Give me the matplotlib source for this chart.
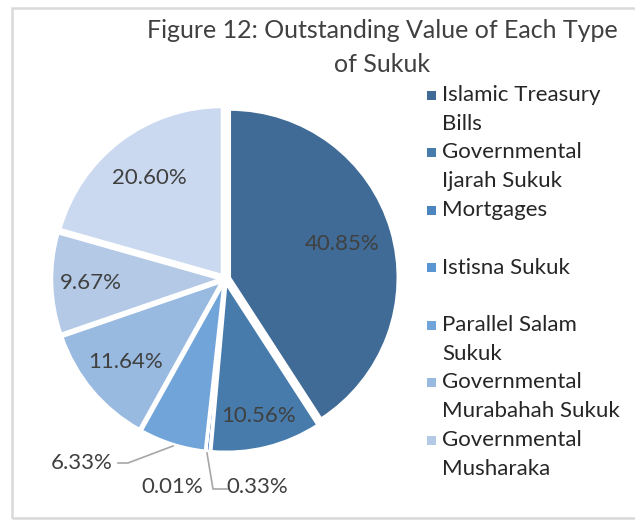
import numpy as np
import matplotlib.pyplot as plt
from matplotlib.patches import Rectangle

# slices, clockwise from 12 o'clock
categories = ['Islamic Treasury\nBills', 'Governmental\nIjarah Sukuk', 'Mortgages',
              'Istisna Sukuk', 'Parallel Salam\nSukuk', 'Governmental\nMurabahah Sukuk',
              'Governmental\nMusharaka', 'Other']
shares = [40.85, 10.56, 0.33, 0.01, 6.33, 11.64, 9.67, 20.60]
pct_labels = ['40.85%', '10.56%', '0.33%', '0.01%', '6.33%', '11.64%', '9.67%', '20.60%']
colors = ['#3f6b96', '#467bab', '#4b85c0', '#5a97d2', '#71a5d9', '#98b9e0', '#b3c9e6', '#cad9ef']
# legend shows only the first seven (last one is cut off in the original)
n_legend = 7

plt.rcParams['font.family'] = ['Lato', 'DejaVu Sans']
text_col = '#404040'

W, H = 635, 520
fig = plt.figure(figsize=(W / 100, H / 100), dpi=100)
ax = fig.add_axes([0, 0, 1, 1])
ax.set_xlim(0, W)
ax.set_ylim(0, H)
ax.axis('off')

# chart frame
ax.add_patch(Rectangle((12, 2), 640, 510, fill=False, ec='#d9d9d9', lw=1.8))

cx, cy, R = 225, 241, 168
# explode is in data units here (pixels)
wedges, _ = ax.pie(shares, colors=colors, startangle=90, counterclock=False,
                   center=(cx, cy), radius=R, explode=[5.0] * len(shares),
                   wedgeprops=dict(edgecolor='white', linewidth=1.8))
ax.set_xlim(0, W)
ax.set_ylim(0, H)
ax.set_aspect('equal')

# radial position of inside labels (Excel "best fit"), outside ones placed by hand
label_r = [0.73, 0.84, None, None, None, 0.77, 0.80, 0.75]
outside = {4: (82, 57), 3: (172, 33), 2: (257, 33)}
for i, w in enumerate(wedges):
    mid = np.deg2rad((w.theta1 + w.theta2) / 2)
    if i not in outside:
        r = label_r[i] * R
        tx, ty = cx + r * np.cos(mid), cy + r * np.sin(mid)
    else:
        tx, ty = outside[i]
    ax.text(tx, ty, pct_labels[i], ha='center', va='center', fontsize=16, color=text_col)

# leader lines
ax.plot([118, 128, 173], [57, 57, 74], color='#a6a6a6', lw=1.2)
ax.plot([207, 213, 227], [67, 31, 31], color='#a6a6a6', lw=1.2)

# title
ax.text(382, 490, 'Figure 12: Outstanding Value of Each Type', ha='center', va='center',
        fontsize=18, color=text_col)
ax.text(382, 455, 'of Sukuk', ha='center', va='center', fontsize=18, color=text_col)

# legend drawn by hand, two-line slots
for i in range(n_legend):
    y = 425 - i * 57.5
    ax.add_patch(Rectangle((427, y - 4.5), 9, 9, color=colors[i], lw=0))
    for k, line in enumerate(categories[i].split('\n')):
        ax.text(442, y - k * 28.7, line, ha='left', va='center', fontsize=16, color='#262626')

fig.savefig('out.png', dpi=100, facecolor='white')
